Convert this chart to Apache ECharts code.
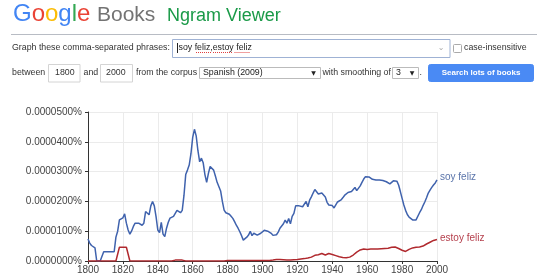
<!DOCTYPE html>
<html><head><meta charset="utf-8">
<script src="https://cdn.jsdelivr.net/npm/echarts@6/dist/echarts.min.js"></script>
<style>html,body{margin:0;padding:0;background:#fff}#c{width:540px;height:278px}</style>
</head><body><div id="c"></div>
<script>
// ---- data (values in units of 0.00001 %) ----
const startYear = 1800;
const endYear = 2000;
const seriesNames = ['soy feliz', 'estoy feliz'];
const soyValues = [
  0.74,0.60,0.52,0.48,0.44,0,0,0,0,0.31,
  0.31,0.31,0.31,0.31,0.31,0.31,0.80,1.00,1.38,1.44,
  1.45,1.58,1.27,1.04,0.90,1.01,1.16,1.27,1.24,1.27,
  1.32,1.20,1.27,1.66,1.69,1.55,1.85,2.00,1.85,1.49,
  1.04,0.95,1.30,0.90,0.82,1.10,1.30,1.44,1.46,1.50,
  1.55,1.70,1.70,1.62,1.70,2.20,2.90,3.05,3.22,3.60,
  4.15,4.42,4.20,3.70,3.33,3.45,3.30,2.90,2.64,2.94,
  3.17,3.15,3.05,2.85,2.64,2.62,2.35,2.00,1.71,1.62,
  1.60,1.57,1.50,1.43,1.32,1.20,1.10,0.98,0.85,0.70,
  0.75,0.80,0.87,1.00,0.85,0.93,0.90,0.87,0.90,0.93,
  0.95,1.03,1.00,1.00,1.02,0.93,0.86,0.80,0.88,0.97,
  1.10,1.15,1.25,1.37,1.27,1.43,1.25,1.50,1.60,1.85,
  1.90,1.85,1.87,1.82,1.86,2.00,1.82,2.04,2.15,2.28,
  2.40,2.42,2.25,2.22,2.28,2.26,2.15,1.97,1.88,1.87,
  1.86,1.78,1.73,1.98,2.02,2.05,2.12,2.20,2.26,2.30,
  2.30,2.33,2.40,2.47,2.36,2.42,2.52,2.64,2.75,2.83,
  2.86,2.82,2.77,2.74,2.71,2.72,2.73,2.72,2.72,2.70,
  2.68,2.66,2.63,2.59,2.64,2.69,2.71,2.68,2.55,2.33,
  2.10,1.88,1.70,1.56,1.47,1.42,1.38,1.37,1.38,1.44,
  1.62,1.72,1.86,1.98,2.12,2.28,2.38,2.47,2.55,2.62,
  2.72
];
const estoyValues = [
  0,0,0,0,0,0,0,0,0,0,
  0,0,0,0,0,0,0,0,0.46,0.46,
  0.46,0.46,0.46,0.46,0,0,0,0,0,0,
  0,0,0,0,0,0,0,0,0,0,
  0,0,0,0,0,0,0,0,0,0.02,
  0.03,0.03,0.03,0.03,0.03,0.02,0,0,0,0,
  0,0,0,0,0,0,0,0,0,0,
  0,0,0,0,0,0,0,0,0,0,
  0.02,0.02,0.02,0.02,0.02,0.02,0.02,0.02,0.02,0.02,
  0.02,0.02,0.02,0.02,0.02,0.02,0.02,0.02,0.02,0.02,
  0.02,0.02,0.02,0.02,0.02,0.03,0.03,0.04,0.05,0.06,
  0.05,0.05,0.04,0.04,0.03,0.03,0.03,0.04,0.04,0.04,
  0.05,0.06,0.07,0.07,0.08,0.09,0.10,0.10,0.13,0.17,
  0.19,0.20,0.21,0.23,0.25,0.22,0.20,0.23,0.25,0.24,
  0.22,0.20,0.18,0.16,0.14,0.13,0.12,0.12,0.11,0.12,
  0.13,0.16,0.20,0.25,0.30,0.34,0.37,0.39,0.40,0.39,
  0.39,0.40,0.40,0.41,0.40,0.41,0.40,0.41,0.41,0.42,
  0.42,0.42,0.43,0.44,0.46,0.47,0.47,0.45,0.42,0.38,
  0.36,0.34,0.32,0.35,0.39,0.42,0.44,0.45,0.46,0.47,
  0.47,0.48,0.50,0.53,0.57,0.60,0.63,0.66,0.69,0.71,
  0.72
];
const yTickLabels = ['0.0000000%','0.0000100%','0.0000200%','0.0000300%','0.0000400%','0.0000500%'];
const years = Array.from({length: endYear - startYear + 1}, (_, i) => startYear + i);

const F = '"Liberation Sans", Arial, sans-serif';
const chart = echarts.init(document.getElementById('c'), null, {renderer: 'canvas'});

function txt(x, y, s, opt) {
  opt = opt || {};
  return {type: 'text', x: x, y: y, silent: true, style: Object.assign({
    text: s, fill: '#333', font: '8.8px ' + F, textAlign: 'left', textVerticalAlign: 'middle'
  }, opt)};
}
function box(x, y, w, h, stroke, fill, r) {
  return {type: 'rect', silent: true, shape: {x: x, y: y, width: w, height: h, r: r || 0},
    style: {stroke: stroke, fill: fill || '#fff', lineWidth: 1}};
}
function ln(x1, y1, x2, y2, stroke, dash) {
  return {type: 'line', silent: true, shape: {x1: x1, y1: y1, x2: x2, y2: y2},
    style: {stroke: stroke, lineWidth: 1, lineDash: dash || null}};
}

const graphics = [
  {type: 'text', x: 13, y: 14.5, silent: true, style: {
    text: '{b|G}{r|o}{y|o}{b|g}{g|l}{r|e}', font: '24px ' + F, textVerticalAlign: 'middle',
    rich: {
      b: {fill: '#4285f4', font: '24px ' + F},
      r: {fill: '#ea4335', font: '24px ' + F},
      y: {fill: '#fbbc05', font: '24px ' + F},
      g: {fill: '#34a853', font: '24px ' + F}
    }}},
  txt(97, 15.3, 'Books', {fill: '#737373', font: '21px ' + F}),
  txt(167, 16.4, 'Ngram Viewer', {fill: '#1a9a48', font: '18px ' + F}),
  ln(11, 34.5, 537, 34.5, '#b8bcc4'),
  // row 1
  txt(12, 48, 'Graph these comma-separated phrases:'),
  box(172.5, 39.5, 277.5, 18, '#9fb2d4'),
  ln(177.5, 43, 177.5, 53, '#222'),
  txt(178.5, 48, 'soy feliz,estoy feliz', {fill: '#222'}),
  ln(196, 52.5, 211, 52.5, '#e04040', [1, 1]),
  ln(213, 52.5, 232.5, 52.5, '#e04040', [1, 1]),
  ln(234.5, 52.5, 250, 52.5, '#e04040', [1, 1]),
  txt(441, 48, '⌄', {fill: '#aaa', font: '8px "DejaVu Sans", sans-serif', textAlign: 'center'}),
  box(453.5, 44.5, 8, 8, '#aaa', '#fff', 1),
  txt(464, 48, 'case-insensitive'),
  // row 2
  txt(12, 73, 'between'),
  box(48.5, 64.5, 31.5, 17.5, '#d4d4d4'),
  txt(55, 73, '1800'),
  txt(83.5, 73, 'and'),
  box(100.5, 64.5, 32, 17.5, '#d4d4d4'),
  txt(106, 73, '2000'),
  txt(136, 73, 'from the corpus'),
  box(199.5, 67.5, 121, 11, '#bbb'),
  txt(203, 73, 'Spanish (2009)', {fill: '#222'}),
  txt(313.5, 73, '▼', {fill: '#222', font: '6px "DejaVu Sans", sans-serif', textAlign: 'center'}),
  txt(322.5, 73, 'with smoothing of'),
  box(392.5, 67.5, 26, 11, '#bbb'),
  txt(396, 73, '3', {fill: '#222'}),
  txt(412, 73, '▼', {fill: '#222', font: '6px "DejaVu Sans", sans-serif', textAlign: 'center'}),
  txt(419.5, 73, '.'),
  box(428.5, 64.5, 105, 17, '#4a8af4', '#4a8af4', 2),
  txt(481, 73, 'Search lots of books', {fill: '#fff', font: 'bold 8px ' + F, textAlign: 'center'})
];

const option = {
  animation: false,
  textStyle: {fontFamily: F},
  graphic: graphics,
  grid: {left: 88, right: 103, top: 112, bottom: 17},
  xAxis: {
    type: 'value', min: startYear, max: endYear, interval: 20,
    axisLine: {show: true, lineStyle: {color: '#333', width: 1}},
    axisTick: {show: true, length: 3, lineStyle: {color: '#333'}},
    axisLabel: {color: '#444', fontSize: 10, margin: 4, fontFamily: F, formatter: v => String(v)},
    splitLine: {show: true, lineStyle: {color: '#ebebeb'}}
  },
  yAxis: {
    type: 'value', min: 0, max: 5, interval: 1,
    axisLine: {show: true, lineStyle: {color: '#333', width: 1}},
    axisTick: {show: true, length: 3, lineStyle: {color: '#333'}},
    axisLabel: {color: '#444', fontSize: 10, margin: 6, fontFamily: F, formatter: v => yTickLabels[Math.round(v)]},
    splitLine: {show: true, lineStyle: {color: '#ebebeb'}}
  },
  series: [
    {
      name: seriesNames[0], type: 'line', showSymbol: false, symbol: 'none',
      data: years.map((y, i) => [y, soyValues[i]]),
      lineStyle: {color: '#3f62ad', width: 1.5}, itemStyle: {color: '#3f62ad'},
      endLabel: {show: true, formatter: p => p.seriesName, color: '#5a74aa', fontSize: 10, fontFamily: F, distance: 3, offset: [0, -3]}
    },
    {
      name: seriesNames[1], type: 'line', showSymbol: false, symbol: 'none',
      data: years.map((y, i) => [y, estoyValues[i]]),
      lineStyle: {color: '#b0292e', width: 1.5}, itemStyle: {color: '#b0292e'},
      endLabel: {show: true, formatter: p => p.seriesName, color: '#b5404d', fontSize: 10, fontFamily: F, distance: 3, offset: [0, -1]}
    }
  ]
};
chart.setOption(option);
</script>
</body></html>
